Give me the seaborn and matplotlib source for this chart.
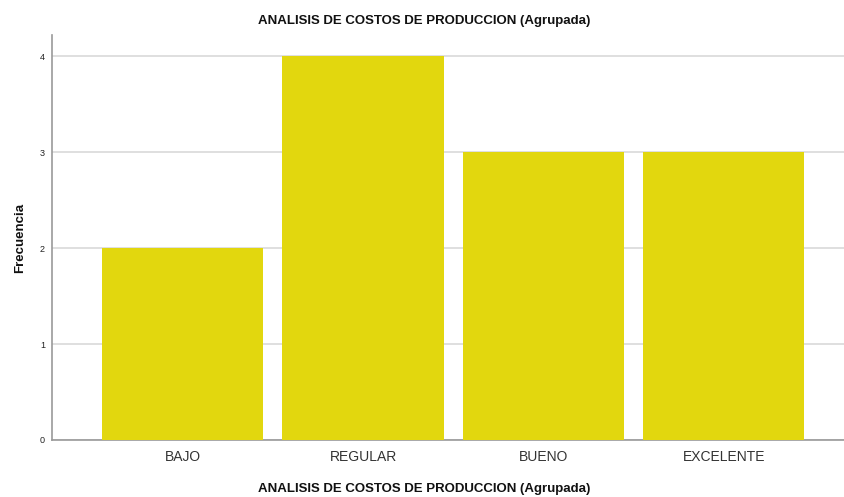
import pandas as pd
import matplotlib.pyplot as plt
import seaborn as sns

categorias = ['BAJO', 'REGULAR', 'BUENO', 'EXCELENTE']
frecuencias = [2, 4, 3, 3]

df = pd.DataFrame({'categoria': categorias, 'frecuencia': frecuencias})

sns.set_style('white')
plt.rcParams['font.family'] = ['Liberation Sans', 'DejaVu Sans']

fig = plt.figure(figsize=(8.44, 4.97), dpi=100)
ax = fig.add_axes([0.0616, 0.1147, 0.9384, 0.815])

sns.barplot(data=df, x='categoria', y='frecuencia', color='#E2D70E', saturation=1,
            width=0.895, linewidth=0, ax=ax, zorder=3)

ax.set_xlim(-0.725, 3.667)
ax.set_ylim(0, 4.22)
ax.set_yticks([0, 1, 2, 3, 4])
ax.yaxis.grid(True, color='#d9d9d9', linewidth=1.2, zorder=0)
ax.set_axisbelow(True)

for s in ['top', 'right']:
    ax.spines[s].set_visible(False)
for s in ['left', 'bottom']:
    ax.spines[s].set_color('#999999')
    ax.spines[s].set_linewidth(1.2)

ax.tick_params(axis='x', length=0, labelsize=10, labelcolor='#333333', pad=7)
ax.tick_params(axis='y', length=0, labelsize=6.5, labelcolor='#222222', pad=5)

ax.set_title('ANALISIS DE COSTOS DE PRODUCCION (Agrupada)', fontsize=9.5,
             fontweight='bold', pad=8, x=0.47, color='#111111')
ax.set_xlabel('ANALISIS DE COSTOS DE PRODUCCION (Agrupada)', fontsize=9.5,
              fontweight='bold', color='#111111')
ax.xaxis.set_label_coords(0.47, -0.107)
ax.set_ylabel('Frecuencia', fontsize=9.5, fontweight='bold', labelpad=10, color='#111111')

plt.savefig('out.png', dpi=100)
